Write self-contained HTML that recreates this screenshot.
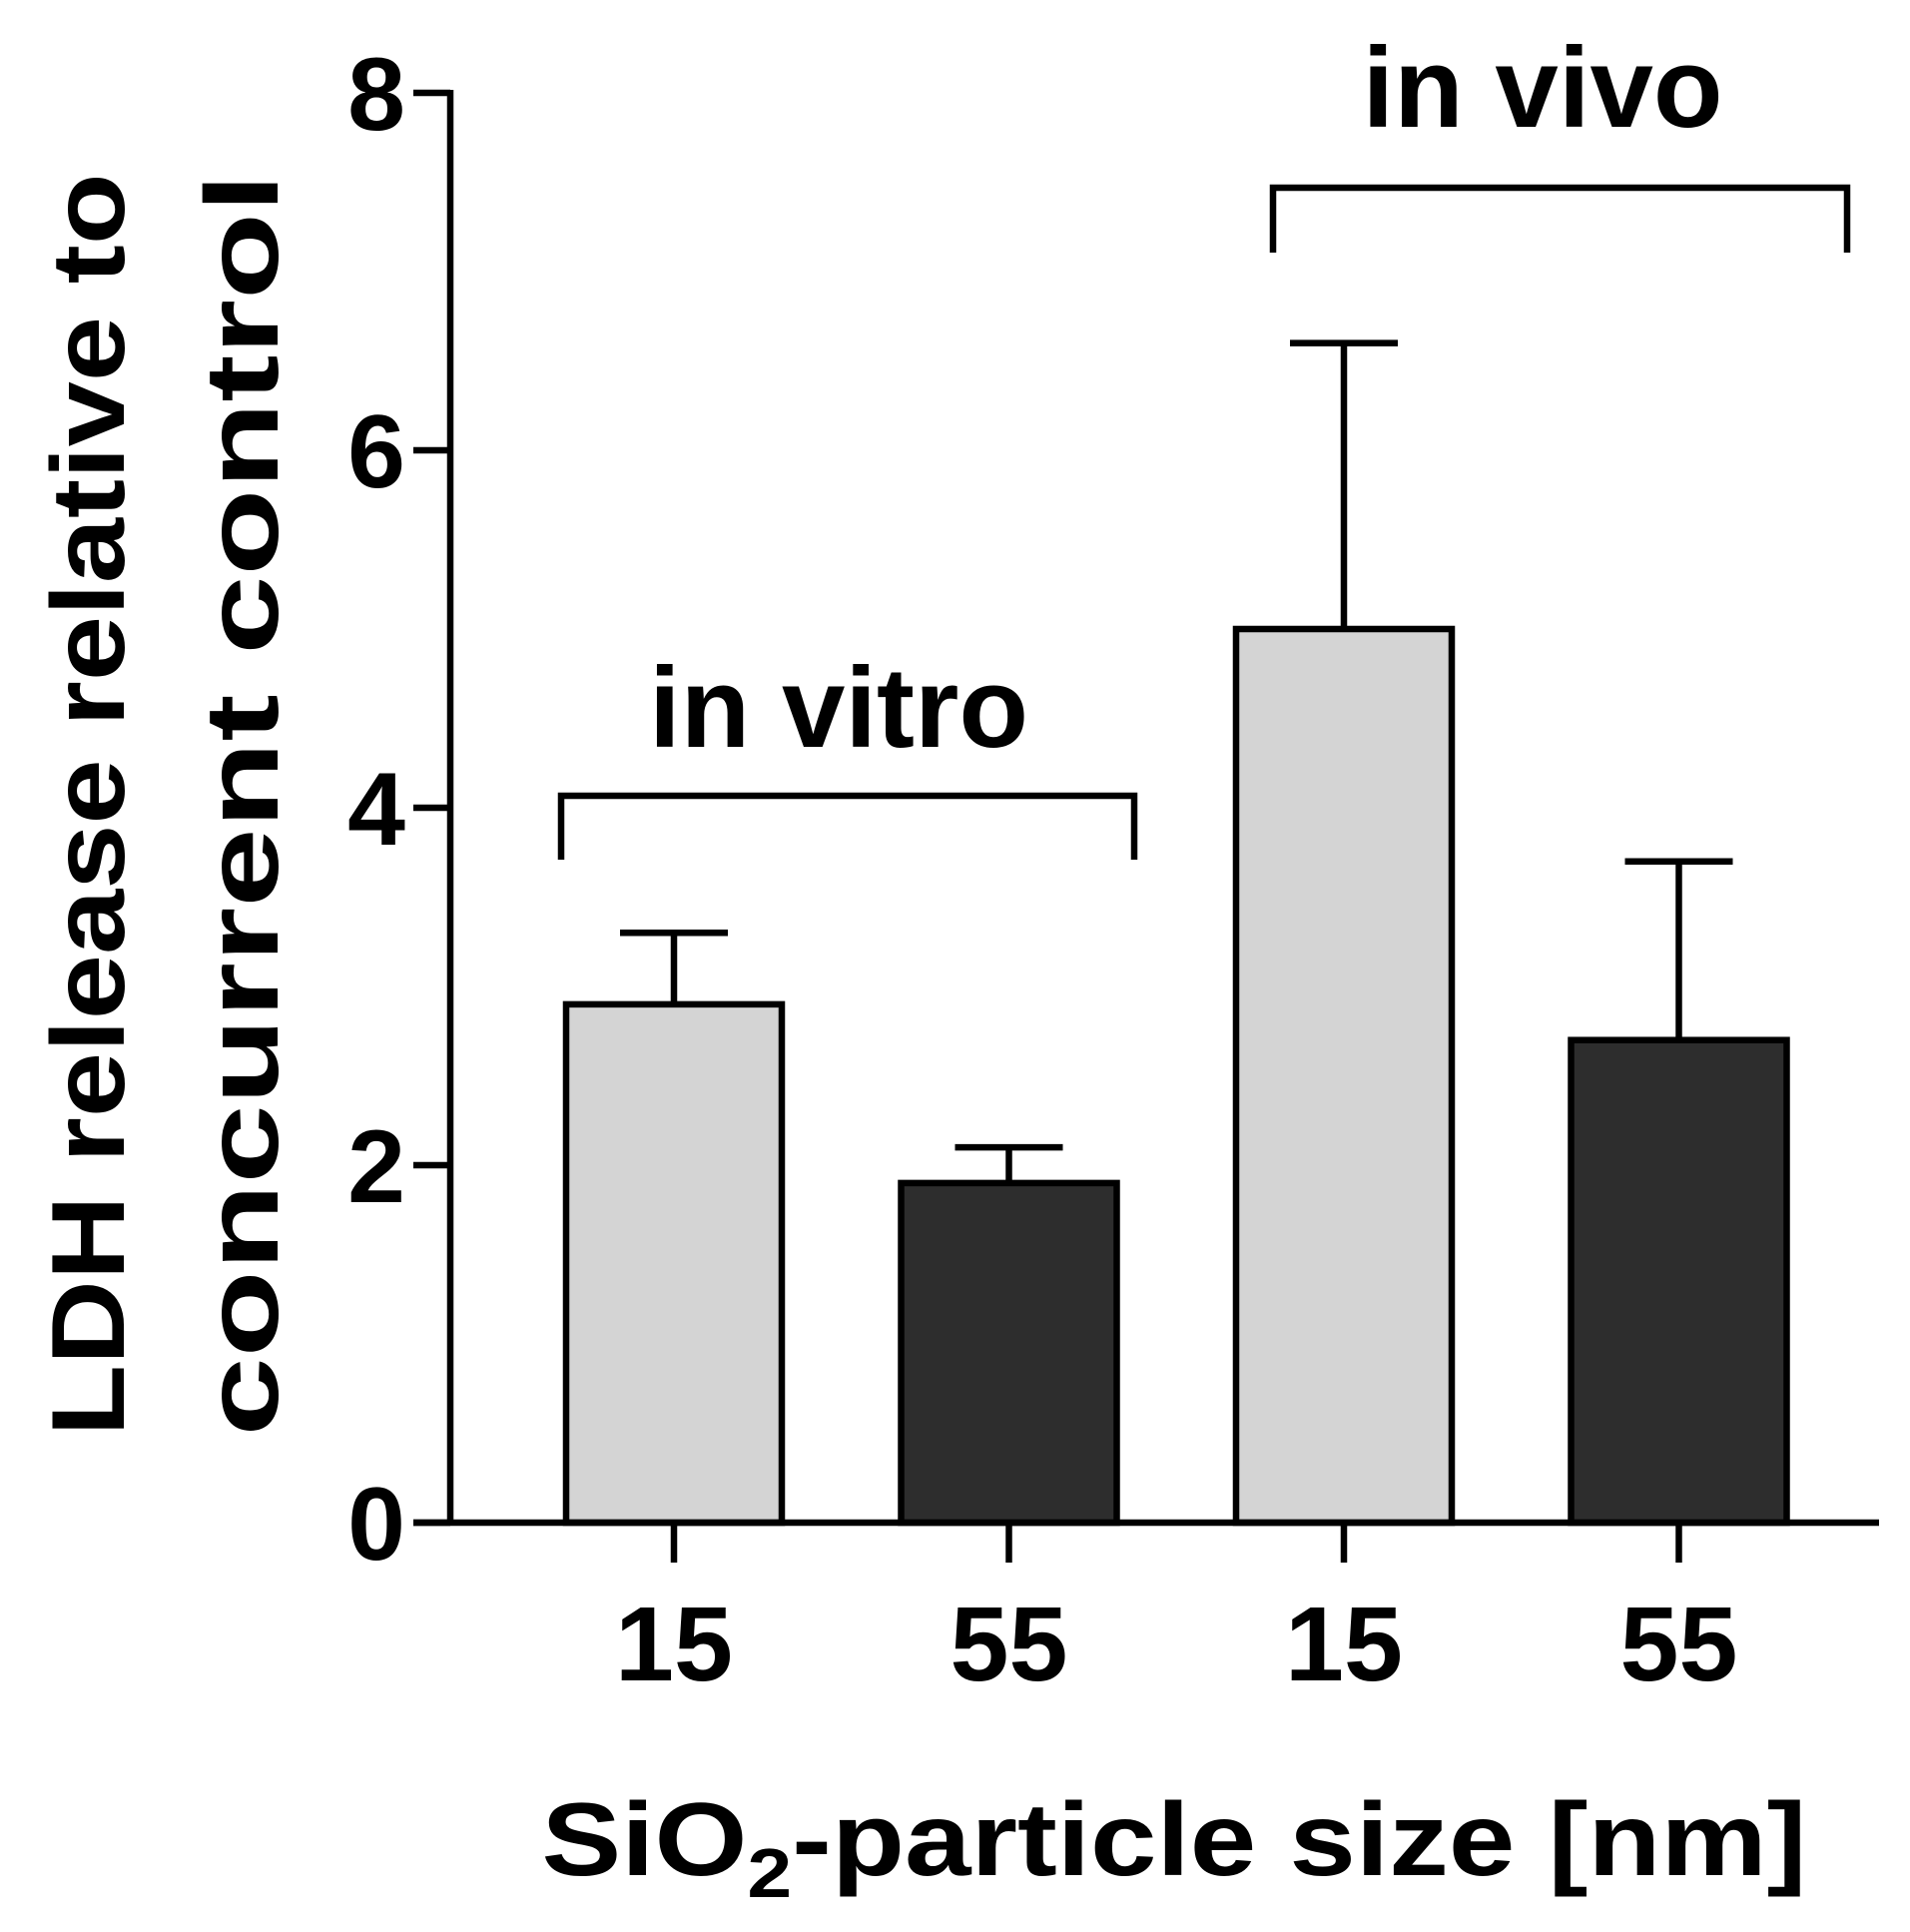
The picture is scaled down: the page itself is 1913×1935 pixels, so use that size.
<!DOCTYPE html>
<html><head><meta charset="utf-8"><style>
html,body{margin:0;padding:0;background:#fff;}
svg{display:block;font-family:"Liberation Sans",Arial,sans-serif;font-weight:bold;}
</style></head><body>
<svg id="chart" width="1913" height="1935" viewBox="0 0 1913 1935"></svg>
<script>
const categories = ["15","55","15","55"];
const values = [2.9, 1.9, 5.0, 2.7];
const errors = [0.4, 0.2, 1.6, 1.0];
const fills = ["#d4d4d4","#2d2d2d","#d4d4d4","#2d2d2d"];
const yTicks = [0,2,4,6,8];
const groups = ["in vitro","in vivo"];

const NS="http://www.w3.org/2000/svg";
const svg=document.getElementById('chart');
const X0=451, XEND=1882, Y0=1525, Y8=93;
const y = v => Y0 - (Y0-Y8)*v/8;
const xc = i => 675 + i*335.5;
const BW=216, LW=6.5;
function el(tag, attrs, parent){const e=document.createElementNS(NS,tag);for(const k in attrs)e.setAttribute(k,attrs[k]);(parent||svg).appendChild(e);return e;}

values.forEach((v,i)=>{
  const g=el('g',{});
  
  
  el('line',{x1:xc(i),x2:xc(i),y1:y(v),y2:y(v+errors[i]),stroke:'#000','stroke-width':LW},g);
  el('line',{x1:xc(i)-54,x2:xc(i)+54,y1:y(v+errors[i]),y2:y(v+errors[i]),stroke:'#000','stroke-width':LW},g);
  el('rect',{x:xc(i)-BW/2,y:y(v),width:BW,height:Y0-y(v),fill:fills[i],stroke:'#000','stroke-width':LW},g);
});
const ax=el('g',{});


el('line',{x1:X0,x2:X0,y1:Y8-3,y2:Y0+3,stroke:'#000','stroke-width':LW},ax);
el('line',{x1:414,x2:XEND,y1:Y0,y2:Y0,stroke:'#000','stroke-width':LW},ax);
yTicks.forEach(t=>{
  el('line',{x1:414,x2:X0,y1:y(t),y2:y(t),stroke:'#000','stroke-width':LW},ax);
  const tx=el('text',{x:406,y:y(t)+37,'text-anchor':'end','font-size':104},ax);
  tx.textContent=t;
  
  
});
categories.forEach((c,i)=>{
  el('line',{x1:xc(i),x2:xc(i),y1:Y0,y2:Y0+40,stroke:'#000','stroke-width':LW},ax);
  const tx=el('text',{x:xc(i),y:1683,'text-anchor':'middle','font-size':106},ax);
  tx.textContent=c;
  
  
});
const br=[[562,1136,797,861,840,748],[1275,1850,188,253,1545,127]];
groups.forEach((gname,i)=>{
  const b=br[i];
  const g=el('g',{});
  
  
  el('polyline',{points:`${b[0]},${b[3]} ${b[0]},${b[2]} ${b[1]},${b[2]} ${b[1]},${b[3]}`,fill:'none',stroke:'#000','stroke-width':LW},g);
  const t=el('text',{x:b[4],y:b[5],'text-anchor':'middle','font-size':114},g);
  t.textContent=gname;
});
const yt=el('text',{transform:'translate(124,806) rotate(-90)','text-anchor':'middle','font-size':104,textLength:1265,lengthAdjust:'spacingAndGlyphs'});
yt.textContent='LDH release relative to';


const yt2=el('text',{transform:'translate(278,806) rotate(-90)','text-anchor':'middle','font-size':104,textLength:1265,lengthAdjust:'spacingAndGlyphs'});
yt2.textContent='concurrent control';


const xt=el('text',{x:1176,y:1878,'text-anchor':'middle','font-size':104,textLength:1267,lengthAdjust:'spacingAndGlyphs'});
xt.innerHTML='SiO<tspan font-size="70" dy="22">2</tspan><tspan dy="-22">-particle size [nm]</tspan>';


</script>
</body></html>
